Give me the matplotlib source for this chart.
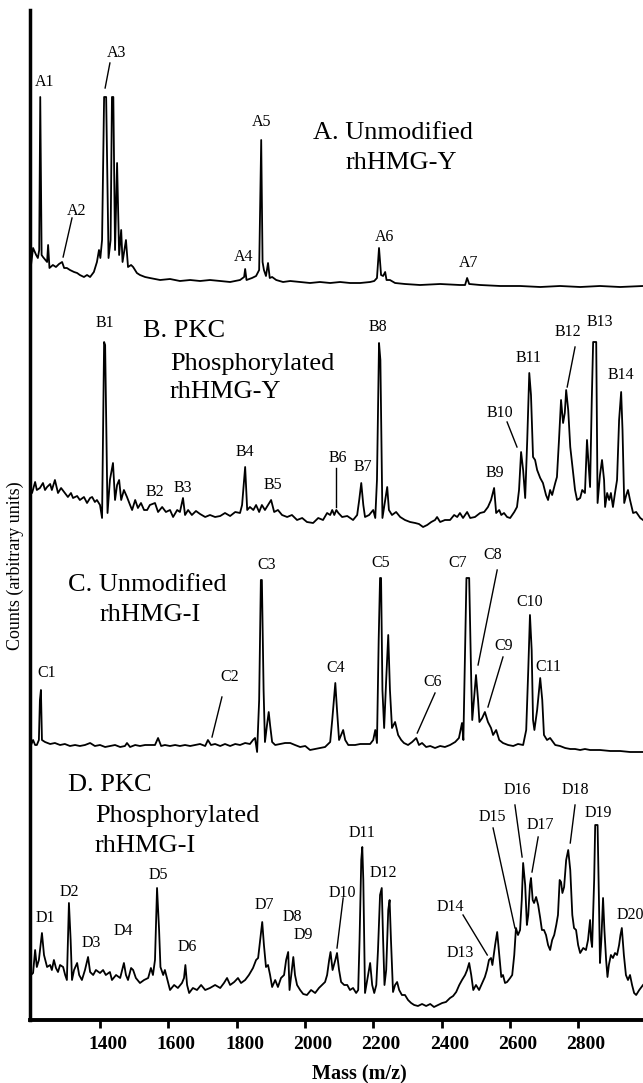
import matplotlib
matplotlib.use("Agg")
import matplotlib.pyplot as plt
from matplotlib.transforms import ScaledTranslation

plt.rcParams['font.family'] = ['Liberation Serif', 'DejaVu Serif']

# ---- traced spectra (mass in Da, counts in arbitrary units above each trace baseline)
A_mass = [1198, 1204, 1213, 1218, 1222, 1225, 1229, 1233, 1245, 1248, 1252, 1262, 1271, 1280, 1289,
          1295, 1303, 1312, 1324, 1333, 1341, 1353, 1362, 1371, 1382, 1391, 1397, 1401, 1406, 1412,
          1418, 1425, 1431, 1435, 1439, 1444, 1450, 1456, 1462, 1466, 1476, 1482, 1491, 1497, 1508,
          1517, 1532, 1546, 1576, 1605, 1634, 1664, 1693, 1722, 1752, 1781, 1810, 1822, 1825, 1829,
          1845, 1857, 1866, 1872, 1876, 1880, 1886, 1892, 1897, 1904, 1916, 1936, 1957, 1986, 2015,
          2044, 2074, 2103, 2132, 2162, 2191, 2203, 2211, 2217, 2223, 2229, 2235, 2239, 2249, 2264,
          2293, 2337, 2396, 2454, 2469, 2475, 2481, 2513, 2572, 2630, 2689, 2747, 2806, 2864, 2923, 2990]
A_counts = [18, 35, 28, 25, 33, 186, 28, 26, 21, 38, 15, 18, 16, 19, 21,
            15, 15, 13, 11, 10, 8, 6, 8, 6, 11, 21, 33, 25, 43, 186,
            186, 25, 43, 186, 186, 33, 120, 28, 53, 21, 43, 16, 18, 16, 10,
            8, 6, 5, 3, 4, 2, 3, 2, 3, 2, 1, 3, 6, 14, 3,
            5, 7, 13, 143, 21, 13, 7, 20, 5, 6, 3, 1, 2, 1, 0,
            1, 0, 1, 0, 0, 1, 2, 5, 35, 8, 7, 11, 3, 3, 0,
            -1, -2, -1, -2, -2, 5, -1, -2, -3, -3, -4, -3, -4, -3, -4, -3]

B_mass = [1198, 1201, 1210, 1215, 1224, 1233, 1239, 1245, 1254, 1259, 1268, 1277, 1286, 1295, 1306,
          1315, 1321, 1333, 1341, 1353, 1362, 1371, 1377, 1385, 1391, 1400, 1406, 1412, 1415, 1422,
          1429, 1438, 1444, 1450, 1456, 1462, 1470, 1479, 1488, 1494, 1503, 1511, 1520, 1529, 1538,
          1546, 1561, 1570, 1582, 1593, 1605, 1614, 1626, 1634, 1643, 1649, 1658, 1669, 1681, 1693,
          1708, 1722, 1737, 1752, 1766, 1781, 1796, 1810, 1816, 1825, 1831, 1839, 1849, 1857, 1866,
          1874, 1883, 1892, 1901, 1910, 1921, 1933, 1948, 1962, 1977, 1992, 2006, 2024, 2039, 2053,
          2065, 2074, 2080, 2086, 2092, 2098, 2109, 2124, 2141, 2153, 2159, 2165, 2171, 2176, 2188,
          2200, 2206, 2211, 2217, 2221, 2227, 2235, 2241, 2246, 2255, 2267, 2279, 2293, 2308, 2323,
          2334, 2346, 2358, 2370, 2381, 2387, 2396, 2410, 2425, 2437, 2446, 2454, 2463, 2475, 2484,
          2498, 2513, 2525, 2536, 2545, 2554, 2560, 2569, 2575, 2583, 2592, 2601, 2613, 2621, 2627,
          2633, 2639, 2645, 2651, 2657, 2662, 2668, 2674, 2680, 2689, 2697, 2706, 2712, 2718, 2724,
          2733, 2738, 2744, 2750, 2756, 2761, 2765, 2771, 2777, 2786, 2791, 2797, 2806, 2812, 2820,
          2826, 2835, 2840, 2844, 2853, 2857, 2864, 2870, 2876, 2879, 2885, 2891, 2896, 2902, 2908,
          2914, 2920, 2926, 2930, 2935, 2941, 2946, 2952, 2961, 2970, 2982, 2990]
B_counts = [30, 27, 38, 30, 32, 37, 30, 33, 36, 30, 40, 27, 32, 28, 23,
            27, 22, 24, 20, 23, 17, 22, 23, 18, 20, 15, 2, 178, 175, 7,
            40, 57, 20, 35, 40, 20, 30, 23, 15, 10, 20, 12, 17, 10, 10,
            15, 17, 8, 13, 8, 10, 3, 10, 8, 22, 5, 10, 5, 9, 6,
            3, 5, 3, 4, 7, 4, 8, 7, 15, 53, 10, 13, 10, 15, 8,
            15, 10, 15, 20, 8, 10, 5, 3, 5, 0, 2, -2, -3, 2, 0,
            7, 5, 10, 5, 10, 7, 3, 4, 0, 5, 20, 37, 15, 3, 5,
            10, 2, 40, 177, 160, 2, 20, 33, 10, 5, 8, 3, 0, -2, -3,
            -4, -7, -5, -2, 0, 3, -2, 0, 0, 5, 3, 7, 2, 8, 2,
            3, 7, 8, 13, 20, 32, 7, 10, 5, 7, 3, 2, 8, 13, 30,
            68, 50, 22, 80, 147, 125, 63, 60, 50, 42, 37, 25, 20, 30, 25,
            37, 43, 80, 120, 97, 107, 130, 110, 73, 45, 30, 20, 22, 30, 27,
            80, 33, 120, 178, 178, 17, 45, 60, 40, 13, 27, 20, 27, 13, 27,
            40, 100, 128, 90, 17, 25, 30, 20, 7, 8, 2, 0]

C_mass = [1198, 1204, 1210, 1215, 1221, 1224, 1227, 1230, 1239, 1254, 1268, 1283, 1297, 1312, 1327,
          1341, 1356, 1371, 1385, 1400, 1415, 1429, 1444, 1459, 1473, 1479, 1488, 1503, 1517, 1532,
          1546, 1561, 1570, 1579, 1590, 1605, 1620, 1634, 1649, 1664, 1678, 1693, 1708, 1716, 1725,
          1737, 1752, 1766, 1781, 1796, 1810, 1825, 1839, 1848, 1854, 1860, 1866, 1871, 1874, 1879,
          1883, 1889, 1894, 1898, 1904, 1913, 1927, 1942, 1957, 1971, 1986, 2001, 2015, 2030, 2044,
          2059, 2074, 2080, 2089, 2094, 2100, 2106, 2112, 2118, 2127, 2147, 2162, 2176, 2191, 2200,
          2206, 2211, 2216, 2220, 2223, 2227, 2232, 2238, 2244, 2249, 2255, 2264, 2273, 2282, 2290,
          2302, 2314, 2326, 2334, 2343, 2355, 2367, 2381, 2396, 2410, 2425, 2440, 2451, 2460, 2464,
          2469, 2473, 2481, 2487, 2490, 2495, 2501, 2507, 2511, 2519, 2527, 2536, 2545, 2551, 2560,
          2569, 2580, 2595, 2610, 2624, 2639, 2648, 2654, 2659, 2664, 2668, 2672, 2680, 2689, 2695,
          2700, 2709, 2718, 2733, 2747, 2762, 2777, 2791, 2806, 2820, 2835, 2864, 2894, 2923, 2952, 2990]
C_counts = [3, 8, 3, 3, 8, 48, 58, 8, 6, 4, 5, 3, 4, 2, 3,
            2, 3, 5, 2, 3, 1, 2, 3, 1, 2, 5, 1, 3, 2, 3,
            3, 3, 10, 2, 3, 2, 3, 2, 3, 2, 3, 4, 2, 8, 3,
            4, 2, 4, 2, 4, 3, 5, 4, 8, 10, -4, 48, 168, 168, 58,
            6, 23, 36, 23, 6, 3, 4, 5, 5, 3, 1, 2, -2, -1, 0,
            1, 6, 28, 65, 38, 8, 13, 18, 8, 3, 3, 4, 4, 4, 8,
            18, 5, 108, 170, 170, 58, 20, 68, 113, 58, 20, 26, 13, 8, 5,
            3, 6, 10, 3, 5, 1, 2, 0, 2, 1, 3, 6, 10, 25, 8,
            98, 170, 170, 68, 28, 48, 73, 48, 26, 30, 36, 26, 20, 13, 18,
            8, 5, 3, 2, 4, 3, 18, 78, 133, 98, 28, 18, 38, 70, 48,
            13, 8, 10, 3, 2, 0, -1, -1, -2, -1, -2, -2, -3, -3, -4, -4]

D_mass = [1198, 1204, 1210, 1215, 1221, 1230, 1236, 1245, 1254, 1259, 1265, 1271, 1277, 1283, 1292,
          1298, 1303, 1309, 1314, 1318, 1324, 1333, 1339, 1347, 1356, 1365, 1371, 1380, 1388, 1400,
          1409, 1417, 1429, 1435, 1447, 1459, 1465, 1470, 1476, 1482, 1491, 1497, 1505, 1517, 1529,
          1541, 1549, 1555, 1561, 1567, 1573, 1577, 1585, 1590, 1605, 1617, 1628, 1640, 1646, 1650,
          1655, 1661, 1672, 1684, 1696, 1708, 1722, 1737, 1752, 1763, 1772, 1781, 1793, 1804, 1813,
          1825, 1836, 1848, 1857, 1863, 1869, 1875, 1880, 1886, 1892, 1898, 1904, 1913, 1921, 1930,
          1939, 1945, 1951, 1955, 1960, 1966, 1971, 1977, 1986, 1995, 2006, 2018, 2030, 2041, 2050,
          2059, 2065, 2071, 2075, 2081, 2089, 2094, 2100, 2106, 2115, 2124, 2132, 2141, 2150, 2156,
          2160, 2165, 2168, 2171, 2176, 2185, 2191, 2197, 2203, 2209, 2214, 2220, 2225, 2229, 2233,
          2238, 2244, 2248, 2252, 2258, 2264, 2270, 2276, 2284, 2293, 2302, 2311, 2320, 2331, 2343,
          2355, 2367, 2378, 2390, 2402, 2413, 2425, 2434, 2443, 2452, 2460, 2469, 2475, 2481, 2487,
          2493, 2501, 2510, 2519, 2527, 2533, 2539, 2545, 2549, 2557, 2563, 2569, 2575, 2580, 2586,
          2592, 2601, 2607, 2613, 2618, 2624, 2630, 2635, 2639, 2645, 2650, 2654, 2659, 2662, 2667,
          2671, 2677, 2683, 2689, 2694, 2700, 2706, 2712, 2718, 2724, 2730, 2736, 2741, 2746, 2750,
          2754, 2759, 2765, 2771, 2777, 2783, 2788, 2794, 2800, 2806, 2815, 2823, 2829, 2835, 2838,
          2841, 2847, 2850, 2857, 2861, 2864, 2868, 2873, 2877, 2882, 2886, 2890, 2896, 2902, 2908,
          2914, 2920, 2924, 2928, 2934, 2940, 2946, 2952, 2958, 2964, 2970, 2979, 2990]
D_counts = [15, 17, 40, 23, 30, 57, 35, 23, 25, 20, 30, 22, 18, 25, 23,
            15, 10, 87, 50, 10, 20, 27, 15, 10, 20, 33, 18, 15, 20, 17,
            20, 15, 18, 10, 15, 12, 20, 27, 15, 10, 22, 20, 12, 7, 10,
            12, 22, 15, 30, 102, 60, 23, 15, 20, 0, 5, 2, 7, 12, 25,
            5, -3, 2, 0, 5, 0, 2, 5, 2, 7, 12, 5, 8, 12, 7,
            10, 15, 22, 30, 32, 50, 68, 45, 23, 25, 15, 3, 10, 3, 12,
            15, 30, 38, 0, 15, 33, 15, 5, 0, -4, -5, 0, -3, 2, 5,
            8, 15, 30, 38, 20, 30, 37, 20, 8, 5, 5, 0, 2, -3, 0,
            50, 130, 143, 110, -3, 15, 27, 5, -3, 5, 40, 95, 102, 50, 5,
            20, 80, 90, 50, -2, 5, 8, 0, -5, -5, -10, -13, -15, -16, -14,
            -16, -14, -17, -15, -13, -12, -8, -6, -2, 5, 10, 15, 20, 27, 15,
            0, 5, 0, 7, 13, 20, 30, 32, 25, 45, 58, 35, 13, 15, 7,
            8, 12, 15, 35, 62, 55, 60, 90, 127, 105, 65, 75, 105, 112, 90,
            87, 93, 85, 72, 60, 60, 55, 45, 40, 50, 55, 65, 75, 110, 108,
            97, 103, 130, 140, 120, 75, 62, 60, 45, 37, 42, 40, 50, 70, 50,
            43, 110, 165, 165, 90, 27, 50, 92, 60, 30, 13, 25, 35, 32, 37,
            35, 45, 55, 62, 35, 15, 10, 15, 5, -3, -5, 0, 5]

# vertical offset of each stacked trace
trace_offsets = {'A': 737, 'B': 500, 'C': 272, 'D': 30}

# peak labels: (text, mass, height above trace baseline, leader line or None)
A_labels = [('A1', 1239, 201, None), ('A2', 1330, 72, (1318, 65, 1292, 26)),
            ('A3', 1447, 230, (1429, 220, 1415, 195)), ('A4', 1819, 26, None),
            ('A5', 1872, 161, None), ('A6', 2232, 46, None), ('A7', 2478, 20, None)]
B_labels = [('B1', 1415, 197, None), ('B2', 1561, 28, None), ('B3', 1643, 32, None),
            ('B4', 1825, 68, None), ('B5', 1907, 35, None), ('B6', 2097, 62, (2091, 52, 2091, 13)),
            ('B7', 2170, 53, None), ('B8', 2214, 193, None), ('B9', 2557, 47, None),
            ('B10', 2572, 107, (2592, 98, 2621, 73)), ('B11', 2654, 162, None),
            ('B12', 2771, 188, (2791, 173, 2768, 133)), ('B13', 2864, 198, None),
            ('B14', 2926, 145, None)]
C_labels = [('C1', 1245, 75, None), ('C2', 1781, 71, (1757, 51, 1728, 11)),
            ('C3', 1889, 183, None), ('C4', 2091, 80, None), ('C5', 2223, 185, None),
            ('C6', 2375, 66, (2381, 55, 2329, 15)), ('C7', 2446, 185, None),
            ('C8', 2551, 193, (2563, 178, 2507, 83)), ('C9', 2583, 102, (2580, 91, 2536, 41)),
            ('C10', 2659, 146, None), ('C11', 2712, 81, None)]
D_labels = [('D1', 1239, 72, None), ('D2', 1309, 98, None), ('D3', 1374, 47, None),
            ('D4', 1467, 59, None), ('D5', 1570, 115, None), ('D6', 1655, 43, None),
            ('D7', 1880, 85, None), ('D8', 1962, 73, None), ('D9', 1995, 55, None),
            ('D10', 2109, 97, (2112, 92, 2094, 42)), ('D11', 2167, 157, None),
            ('D12', 2229, 117, None), ('D13', 2454, 37, None),
            ('D14', 2425, 83, (2463, 75, 2534, 35)), ('D15', 2548, 173, (2551, 162, 2615, 62)),
            ('D16', 2621, 200, (2615, 185, 2636, 133)), ('D17', 2689, 165, (2683, 153, 2665, 118)),
            ('D18', 2791, 200, (2791, 185, 2777, 147)), ('D19', 2859, 177, None),
            ('D20', 2952, 75, None)]

# panel titles: (line, left mass, height)
panel_titles = {
    'A': [('A. Unmodified', 2024, 150), ('rhHMG-Y', 2118, 120)],
    'B': [('B. PKC', 1526, 189), ('Phosphorylated', 1605, 156), ('rhHMG-Y', 1605, 128)],
    'C': [('C. Unmodified', 1306, 163), ('rhHMG-I', 1400, 133)],
    'D': [('D. PKC', 1306, 205), ('Phosphorylated', 1385, 174), ('rhHMG-I', 1385, 144)],
}

x_ticks = [1400, 1600, 1800, 2000, 2200, 2400, 2600, 2800]

fig = plt.figure(figsize=(6.43, 10.83), dpi=100)
ax = fig.add_axes([30 / 643, 63 / 1083, 613 / 643, 1010 / 1083])

traces = {'A': (A_mass, A_counts, A_labels), 'B': (B_mass, B_counts, B_labels),
          'C': (C_mass, C_counts, C_labels), 'D': (D_mass, D_counts, D_labels)}

for key, (mass, counts, labels) in traces.items():
    off = trace_offsets[key]
    ax.plot(mass, [c + off for c in counts], color='black', lw=1.3, solid_joinstyle='round')
    for text, m, h, leader in labels:
        ax.text(m, h + off, text, ha='center', va='center', fontsize=11.5)
        if leader:
            ax.plot([leader[0], leader[2]], [leader[1] + off, leader[3] + off], color='black', lw=1.0)
    for text, m, h in panel_titles[key]:
        ax.text(m, h + off, text, ha='left', va='center', fontsize=19)

ax.set_xlim(1195, 2990)
ax.set_ylim(0, 1010)
ax.set_xticks(x_ticks)
ax.set_xticklabels([str(t) for t in x_ticks], fontsize=14, fontweight='bold')
ax.set_yticks([])
ax.tick_params(axis='x', direction='out', length=5.5, width=2, pad=6)
# the printed labels sit slightly right of their tick marks
shift = ScaledTranslation(8 / 100, 0, fig.dpi_scale_trans)
for lab in ax.get_xticklabels():
    lab.set_transform(lab.get_transform() + shift)
for side in ['top', 'right']:
    ax.spines[side].set_visible(False)
ax.spines['left'].set_linewidth(2.5)
ax.spines['bottom'].set_linewidth(2.8)

fig.text(359 / 643, 1 - 1074 / 1083, 'Mass (m/z)', ha='center', va='center',
         fontsize=14.5, fontweight='bold')
fig.text(15 / 643, 1 - 566 / 1083, 'Counts (arbitrary units)', ha='center', va='center',
         fontsize=13, rotation=90)

fig.savefig('out.png', dpi=100)
